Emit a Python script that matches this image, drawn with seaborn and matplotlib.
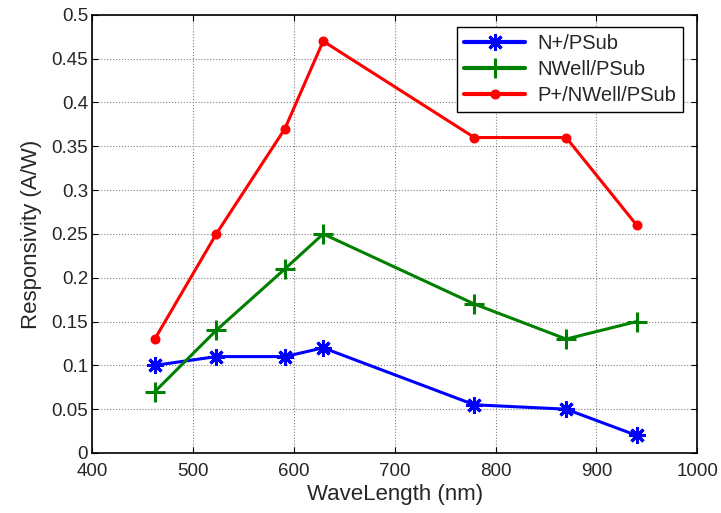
import matplotlib
matplotlib.use("Agg")
import matplotlib.pyplot as plt
import seaborn as sns

# Style
sns.set_style("whitegrid", {
    "grid.linestyle": ":",
    "grid.color": "#808080",
    "axes.edgecolor": "black",
    "xtick.direction": "in",
    "ytick.direction": "in",
})
plt.rcParams["font.family"] = ["Liberation Sans", "DejaVu Sans"]

# Data
wavelength = [462, 523, 591, 629, 779, 870, 940]
n_psub = [0.10, 0.11, 0.11, 0.12, 0.055, 0.05, 0.02]
nwell_psub = [0.07, 0.14, 0.21, 0.25, 0.17, 0.13, 0.15]
p_nwell_psub = [0.13, 0.25, 0.37, 0.47, 0.36, 0.36, 0.26]

series = [
    ("N+/PSub", n_psub, "#0000ff", (8, 2, 0), 12),
    ("NWell/PSub", nwell_psub, "#008000", "+", 14),
    ("P+/NWell/PSub", p_nwell_psub, "#ff0000", ".", 10),
]

fig = plt.figure(figsize=(7.21, 5.13), dpi=100)
ax = fig.add_axes([0.128, 0.117, 0.839, 0.854])

for name, vals, color, marker, ms in series:
    sns.lineplot(
        x=wavelength,
        y=vals,
        ax=ax,
        color=color,
        marker=marker,
        markersize=ms,
        markeredgecolor=color,
        markerfacecolor=color,
        markeredgewidth=2.2,
        linewidth=2.2,
        label=name,
    )

ax.set_xlim(400, 1000)
ax.set_ylim(0, 0.5)
ax.set_xticks(range(400, 1001, 100))
ax.set_yticks([i * 0.05 for i in range(11)])
ax.set_yticklabels(["0", "0.05", "0.1", "0.15", "0.2", "0.25", "0.3",
                    "0.35", "0.4", "0.45", "0.5"])
ax.tick_params(axis="both", labelsize=13.5, length=4, width=0.8,
               top=True, right=True, bottom=True, left=True, color="black")
ax.tick_params(axis="x", pad=7)
ax.tick_params(axis="y", pad=3)
ax.grid(True, linestyle=":", color="#808080", linewidth=0.8)
for s in ax.spines.values():
    s.set_linewidth(1.2)
    s.set_color("black")

ax.set_xlabel("WaveLength (nm)", fontsize=16, labelpad=3)
ax.set_ylabel("Responsivity (A/W)", fontsize=16, labelpad=7)

leg = ax.legend(loc="upper right", bbox_to_anchor=(0.993, 0.995), fontsize=14.5,
                frameon=True, fancybox=False, framealpha=1, edgecolor="black",
                handlelength=3.0, borderpad=0.35, labelspacing=0.35,
                handletextpad=0.6)
leg.get_frame().set_linewidth(1.0)
for line in leg.get_lines():
    line.set_linewidth(3)

plt.savefig("out.png", dpi=100)
